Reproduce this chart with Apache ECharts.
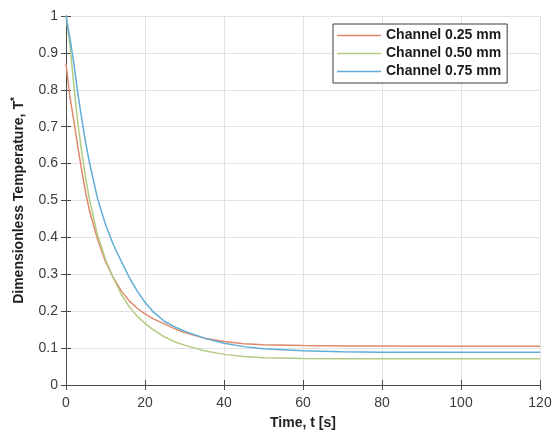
<!DOCTYPE html>
<html>
<head>
<meta charset="utf-8">
<script src="https://cdn.jsdelivr.net/npm/echarts@6/dist/echarts.min.js"></script>
<style>
  html, body { margin: 0; padding: 0; background: #fff; }
  #chart { width: 556px; height: 435px; }
</style>
</head>
<body>
<div id="chart"></div>
<script>
// time samples [s]
var timeS = [0, 1, 2, 3, 4, 5, 6, 8, 10, 12, 14, 16, 18, 20, 22, 25, 28, 30, 35, 40, 45, 50, 60, 70, 80, 100, 120]

var ch025 = [0.870, 0.780, 0.715, 0.645, 0.580, 0.520, 0.470, 0.395, 0.335, 0.290, 0.255, 0.228, 0.208, 0.193, 0.180, 0.165, 0.150, 0.142, 0.127, 0.118, 0.112, 0.109, 0.107, 0.106, 0.106, 0.105, 0.105]
var ch050 = [1.000, 0.920, 0.810, 0.710, 0.630, 0.560, 0.500, 0.405, 0.340, 0.290, 0.246, 0.212, 0.187, 0.167, 0.150, 0.130, 0.115, 0.108, 0.093, 0.083, 0.077, 0.074, 0.072, 0.071, 0.071, 0.071, 0.071]
var ch075 = [1.000, 0.940, 0.870, 0.790, 0.720, 0.655, 0.600, 0.505, 0.435, 0.380, 0.335, 0.292, 0.255, 0.224, 0.199, 0.172, 0.155, 0.146, 0.127, 0.113, 0.104, 0.098, 0.093, 0.090, 0.089, 0.089, 0.089]

var seriesNames = ['Channel 0.25 mm', 'Channel 0.50 mm', 'Channel 0.75 mm']
var seriesColors = ['#e0886a', '#b3cc83', '#5fadd6']

function pairs(ys) {
  return timeS.map(function (t, i) { return [t, ys[i]] })
}

var chart = echarts.init(document.getElementById('chart'))

var axisLine = { show: true, lineStyle: { color: '#4a4a4a', width: 1 } }
var tick = { show: true, inside: true, length: 5, lineStyle: { color: '#4a4a4a' } }
var label = { color: '#3c3c3c', fontSize: 14, fontFamily: 'Liberation Sans' }

chart.setOption({
  animation: false,
  grid: { left: 66, right: 16, top: 16, bottom: 48 },
  legend: {
    left: 333,
    top: 24,
    orient: 'vertical',
    icon: 'rect',
    itemWidth: 44,
    itemHeight: 1.5,
    itemGap: 3,
    padding: [4, 6, 4, 4],
    backgroundColor: '#fff',
    borderColor: '#3a3a3a',
    borderWidth: 1,
    textStyle: { fontSize: 14, fontWeight: 'bold', color: '#1a1a1a', fontFamily: 'Liberation Sans', lineHeight: 15 },
    data: seriesNames
  },
  xAxis: [{
    type: 'value',
    min: 0,
    max: 120,
    interval: 20,
    name: 'Time, t [s]',
    nameLocation: 'middle',
    nameGap: 31,
    nameTextStyle: { fontSize: 14, fontWeight: 'bold', color: '#222', fontFamily: 'Liberation Sans' },
    axisLine: axisLine,
    axisTick: tick,
    axisLabel: Object.assign({ margin: 11 }, label),
    splitLine: { show: true, lineStyle: { color: '#e2e2e2', width: 1 } }
  }, {
    type: 'value',
    position: 'top',
    min: 0,
    max: 120,
    interval: 20,
    axisLine: axisLine,
    axisTick: tick,
    axisLabel: { show: false },
    splitLine: { show: false }
  }],
  yAxis: [{
    type: 'value',
    min: 0,
    max: 1,
    interval: 0.1,
    name: '{a|Dimensionless Temperature, T}{s|*}',
    nameLocation: 'middle',
    nameGap: 38,
    nameTextStyle: {
      rich: {
        a: { fontSize: 14, fontWeight: 'bold', color: '#222', fontFamily: 'Liberation Sans', lineHeight: 18 },
        s: { fontSize: 10, fontWeight: 'bold', color: '#222', fontFamily: 'Liberation Sans', verticalAlign: 'top', lineHeight: 18 }
      }
    },
    axisLine: axisLine,
    axisTick: tick,
    axisLabel: Object.assign({ margin: 8 }, label),
    splitLine: { show: true, lineStyle: { color: '#e2e2e2', width: 1 } }
  }, {
    type: 'value',
    position: 'right',
    min: 0,
    max: 1,
    interval: 0.1,
    axisLine: axisLine,
    axisTick: tick,
    axisLabel: { show: false },
    splitLine: { show: false }
  }],
  series: [ch025, ch050, ch075].map(function (ys, i) {
    return {
      name: seriesNames[i],
      type: 'line',
      data: pairs(ys),
      smooth: false,
      symbol: 'none',
      color: seriesColors[i],
      lineStyle: { width: 1.5, color: seriesColors[i] }
    }
  })
})
</script>
</body>
</html>
